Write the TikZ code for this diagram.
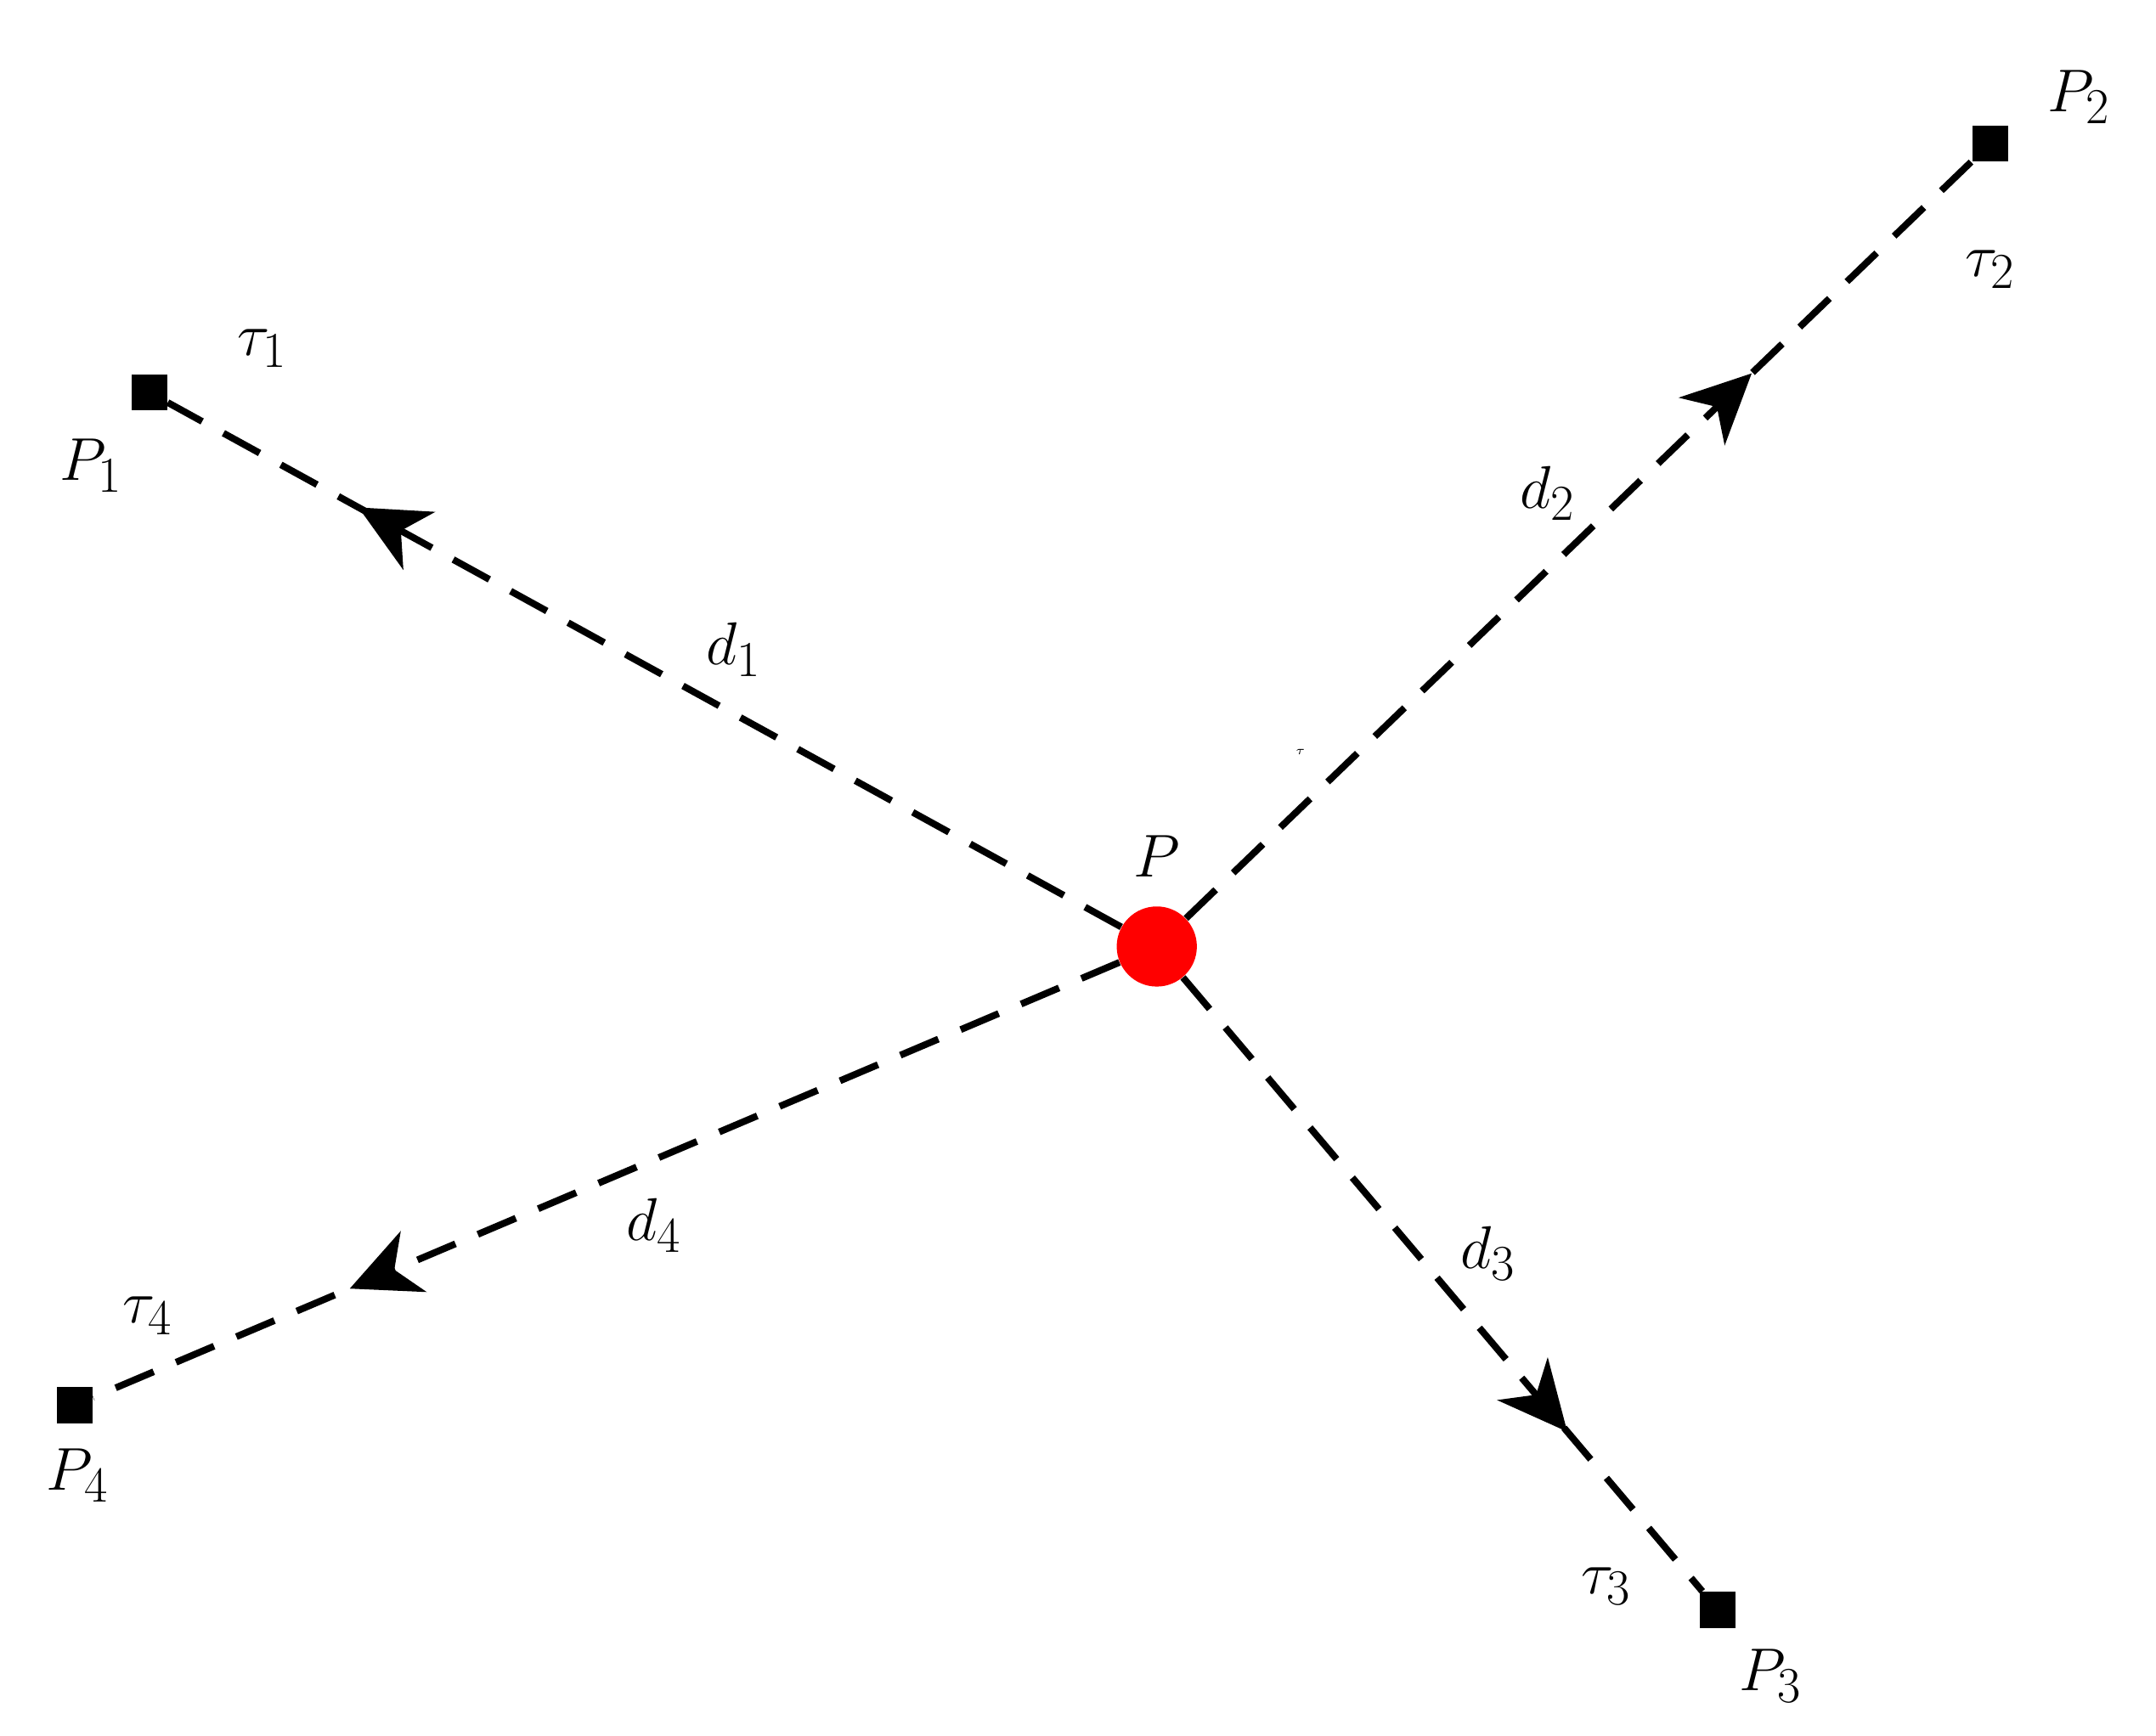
\documentclass[tikz,border=0pt]{standalone}
\usetikzlibrary{arrows.meta,decorations.markings}
\begin{document}
\begin{tikzpicture}[x=0.02cm,y=-0.02cm,
  lbl/.style={font=\fontsize{32}{38}\selectfont},
  sq/.style={fill=black,minimum size=0.52cm,inner sep=0pt},
  conn/.style={line width=2.8pt,dash pattern=on 17pt off 10pt,
    postaction={decorate,decoration={markings,mark=at position #1 with {\arrow{Stealth[length=1cm,width=0.95cm,inset=0.3cm]}}}}}]
\useasboundingbox (0,0) rectangle (1560,1256);
\node[circle,fill=red,minimum size=1.16cm,inner sep=0pt] (P) at (837,685) {};
\node[sq] (P1) at (108,284) {};
\node[sq] (P2) at (1440,104) {};
\node[sq] (P3) at (1243,1165) {};
\node[sq] (P4) at (54,1017) {};
\draw[conn=0.8] (P) -- (P1);
\draw[conn=0.72] (P) -- (P2);
\draw[conn=0.74] (P) -- (P3);
\draw[conn=0.75] (P) -- (P4);
\node[lbl] (lP) at (837,620) {$P$};
\node[lbl] (l1) at (66,337) {$P_1$};
\node[lbl] (t1) at (190,252) {$\tau_1$};
\node[lbl] (l2) at (1504,70) {$P_2$};
\node[lbl] (t2) at (1440,195) {$\tau_2$};
\node[lbl] (l3) at (1281,1213) {$P_3$};
\node[lbl] (t3) at (1162,1148) {$\tau_3$};
\node[lbl] (l4) at (56,1068) {$P_4$};
\node[lbl] (t4) at (107,952) {$\tau_4$};
\node[lbl] (d1) at (531,470) {$d_1$};
\node[lbl] (d2) at (1120,357) {$d_2$};
\node[lbl] (d3) at (1077,907) {$d_3$};
\node[lbl] (d4) at (473,887) {$d_4$};
\node[font=\tiny] (tt) at (941,544) {$\tau$};
\end{tikzpicture}
\end{document}
